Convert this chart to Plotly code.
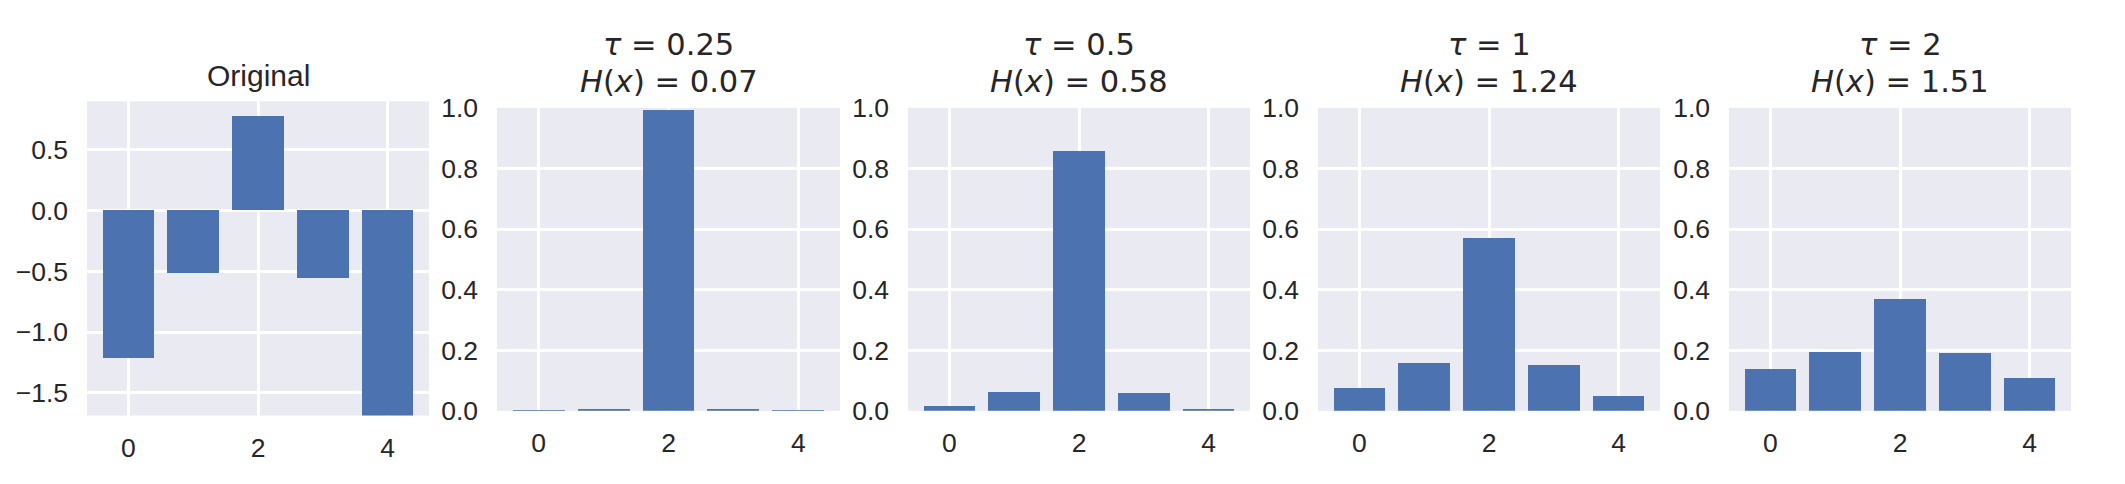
import plotly.graph_objects as go

# data
positions = [0, 1, 2, 3, 4]
original = [-1.215, -0.513, 0.774, -0.559, -1.69]

taus = ["0.25", "0.5", "1", "2"]
entropies = ["0.07", "0.58", "1.24", "1.51"]
probs_025 = [0.0004, 0.0045, 0.992, 0.004, 0.0001]
probs_05 = [0.015, 0.064, 0.858, 0.058, 0.005]
probs_1 = [0.077, 0.157, 0.570, 0.151, 0.049]
probs_2 = [0.139, 0.194, 0.371, 0.191, 0.108]
softmax_probs = [probs_025, probs_05, probs_1, probs_2]

orig_ticks = [-1.5, -1.0, -0.5, 0.0, 0.5]
orig_ticktext = ["\u22121.5", "\u22121.0", "\u22120.5", "0.0", "0.5"]
prob_ticks = [0.0, 0.2, 0.4, 0.6, 0.8, 1.0]

W, H = 2125, 484
BAR = "#4C72B0"
BG = "#EAEAF2"
TXT = "#262626"
TICK_FONT = dict(family="Liberation Sans, Arial", size=26.5, color=TXT)

# panel boxes in pixels (left, right, top, bottom)
boxes = [(87, 429, 92, 427), (497, 840, 99, 422), (908, 1250, 99, 422),
         (1318, 1660, 99, 422), (1729, 2071, 99, 422)]

fig = go.Figure()

series = [original] + softmax_probs
for i, vals in enumerate(series):
    n = "" if i == 0 else str(i + 1)
    fig.add_trace(go.Bar(x=positions, y=vals, width=0.8, marker_color=BAR,
                         marker_line_width=0, xaxis="x" + n, yaxis="y" + n,
                         showlegend=False))

for i, (l, r, t, b) in enumerate(boxes):
    n = "" if i == 0 else str(i + 1)
    xa = dict(domain=[l / W, r / W], anchor="y" + n, range=[-0.64, 4.64],
              tickvals=[0, 2, 4], showgrid=True, gridcolor="white", gridwidth=2.6,
              zeroline=False, showline=False, ticks="", ticklabelstandoff=14,
              tickfont=TICK_FONT)
    ya = dict(domain=[1 - b / H, 1 - t / H], anchor="x" + n,
              showgrid=True, gridcolor="white", gridwidth=2.6, zeroline=False,
              showline=False, ticks="", ticklabelstandoff=18, tickfont=TICK_FONT)
    if i == 0:
        ya.update(range=[-1.686, 0.90], tickvals=orig_ticks, ticktext=orig_ticktext)
    else:
        ya.update(range=[0, 1], tickvals=prob_ticks, tickformat=".1f")
    fig.update_layout(**{"xaxis" + n: xa, "yaxis" + n: ya})

# titles
l, r, t, b = boxes[0]
fig.add_annotation(text="Original", x=(l + r) / 2 / W, y=1 - 64 / H,
                   xref="paper", yref="paper", showarrow=False,
                   xanchor="center", yanchor="middle",
                   font=dict(family="Liberation Sans, Arial", size=30, color=TXT))
for i, (tau, ent) in enumerate(zip(taus, entropies)):
    l, r, t, b = boxes[i + 1]
    cx = (l + r) / 2 / W
    fig.add_annotation(text=f"<i>\u03c4</i> = {tau}", x=cx, y=1 - 31 / H,
                       xref="paper", yref="paper", showarrow=False,
                       xanchor="center", yanchor="middle",
                       font=dict(family="DejaVu Sans", size=30.5, color=TXT))
    fig.add_annotation(text=f"<i>H</i>(<i>x</i>) = {ent}", x=cx, y=1 - 71 / H,
                       xref="paper", yref="paper", showarrow=False,
                       xanchor="center", yanchor="middle",
                       font=dict(family="DejaVu Sans", size=30.5, color=TXT))

fig.update_layout(width=W, height=H, margin=dict(l=0, r=0, t=0, b=0),
                  paper_bgcolor="white", plot_bgcolor=BG, bargap=0)

# drop the browser's default page margin so the figure sits at (0, 0)
fig.write_html("out.html", config={"displayModeBar": False},
               post_script="document.body.style.margin = '0';")
